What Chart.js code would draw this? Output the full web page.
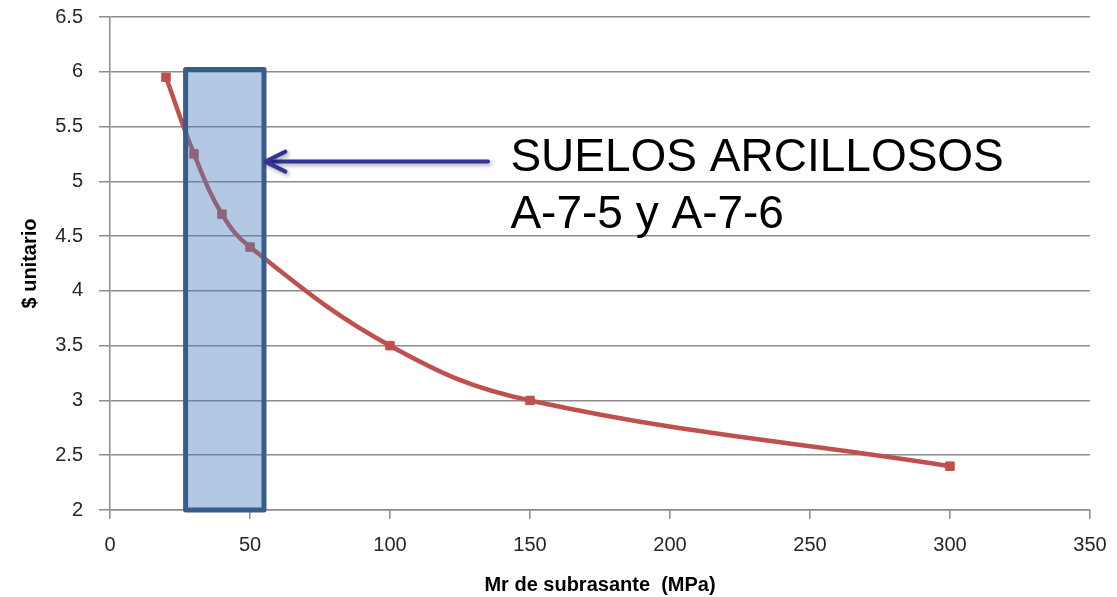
<!DOCTYPE html>
<html>
<head>
<meta charset="utf-8">
<script src="https://cdn.jsdelivr.net/npm/chart.js@4"></script>
<style>
  html, body { margin: 0; padding: 0; background: #ffffff; }
  #wrap { width: 1117px; height: 597px; }
</style>
</head>
<body>
<div id="wrap"><canvas id="c" width="1117" height="597"></canvas></div>
<script>
// ---- data ----
const mrValues = [20, 30, 40, 50, 100, 150, 300];          // Mr de subrasante (MPa)
const costValues = [5.95, 5.25, 4.7, 4.4, 3.5, 3.0, 2.4];  // $ unitario
const xTickLabels = ['0', '50', '100', '150', '200', '250', '300', '350'];
const yTickLabels = ['2', '2.5', '3', '3.5', '4', '4.5', '5', '5.5', '6', '6.5'];
const xAxisTitle = 'Mr de subrasante  (MPa)';
const yAxisTitle = '$ unitario';
// annotation (data units)
const boxXRange = [27, 55];
const boxYRange = [2, 6.02];
const arrowFrom = [135, 5.18];
const arrowTo = [55.5, 5.18];
const labelAnchor = [143, 5.09];
const labelLines = ['SUELOS ARCILLOSOS', 'A-7-5 y A-7-6'];

const points = mrValues.map((x, i) => ({ x: x, y: costValues[i] }));
const gridColor = '#8c8c8c';
const tickFont = { family: '"Liberation Sans", Arial, sans-serif', size: 20 };
const titleFont = { family: '"Liberation Sans", Arial, sans-serif', size: 20, weight: 'bold' };

const annotationPlugin = {
  id: 'annot',
  afterDatasetsDraw(chart) {
    const ctx = chart.ctx;
    const xs = chart.scales.x, ys = chart.scales.y;
    // shaded box
    const x0 = xs.getPixelForValue(boxXRange[0]);
    const x1 = xs.getPixelForValue(boxXRange[1]);
    const y0 = ys.getPixelForValue(boxYRange[1]);
    const y1 = ys.getPixelForValue(boxYRange[0]);
    ctx.save();
    ctx.fillStyle = 'rgba(79,129,189,0.43)';
    ctx.fillRect(x0, y0, x1 - x0, y1 - y0);
    ctx.lineWidth = 5;
    ctx.lineJoin = 'round';
    ctx.strokeStyle = '#385d8a';
    ctx.strokeRect(x0, y0, x1 - x0, y1 - y0);
    ctx.restore();

    // arrow
    const ax0 = xs.getPixelForValue(arrowFrom[0]);
    const ay0 = ys.getPixelForValue(arrowFrom[1]);
    const ax1 = xs.getPixelForValue(arrowTo[0]);
    const ay1 = ys.getPixelForValue(arrowTo[1]);
    ctx.save();
    ctx.shadowColor = 'rgba(0,0,0,0.35)';
    ctx.shadowBlur = 4;
    ctx.shadowOffsetX = 2;
    ctx.shadowOffsetY = 2;
    ctx.strokeStyle = '#333399';
    ctx.lineWidth = 4;
    ctx.lineCap = 'round';
    ctx.lineJoin = 'round';
    ctx.beginPath();
    ctx.moveTo(ax0, ay0);
    ctx.lineTo(ax1 + 2, ay1);
    ctx.stroke();
    ctx.beginPath();
    ctx.moveTo(ax1 + 20, ay1 - 10);
    ctx.lineTo(ax1, ay1);
    ctx.lineTo(ax1 + 20, ay1 + 10);
    ctx.stroke();
    ctx.restore();

    // label text
    const tx = xs.getPixelForValue(labelAnchor[0]);
    const ty = ys.getPixelForValue(labelAnchor[1]);
    ctx.save();
    ctx.fillStyle = '#000000';
    ctx.font = '46px "Liberation Sans", Arial, sans-serif';
    ctx.textAlign = 'left';
    ctx.textBaseline = 'alphabetic';
    labelLines.forEach((t, i) => ctx.fillText(t, tx, ty + i * 57));
    ctx.restore();
  }
};

new Chart(document.getElementById('c'), {
  type: 'line',
  data: {
    datasets: [{
      data: points,
      borderColor: '#c0504d',
      backgroundColor: '#c0504d',
      pointBackgroundColor: '#c0504d',
      pointBorderColor: '#c0504d',
      borderWidth: 4.5,
      pointStyle: 'rect',
      pointRadius: 6,
      pointHoverRadius: 6,
      pointBorderWidth: 1,
      tension: 0.4,
      fill: false
    }]
  },
  options: {
    responsive: false,
    animation: false,
    devicePixelRatio: 1,
    layout: { padding: { top: 17, right: 27, left: 0, bottom: 0 } },
    plugins: { legend: { display: false }, tooltip: { enabled: false } },
    scales: {
      x: {
        type: 'linear',
        min: 0, max: 350,
        afterFit(s) { s.height = 87; s.paddingLeft = 0; s.paddingRight = 0; },
        afterBuildTicks(s) { s.ticks = xTickLabels.map(v => ({ value: Number(v) })); },
        ticks: {
          font: tickFont, color: '#262626', padding: 14,
          maxRotation: 0, autoSkip: false,
          callback: (v) => { const i = xTickLabels.indexOf(String(v)); return i >= 0 ? xTickLabels[i] : ''; }
        },
        grid: { drawOnChartArea: false, drawTicks: true, tickLength: 9, color: gridColor, lineWidth: 1.5 },
        border: { display: true, color: gridColor, width: 1.5 },
        title: { display: true, text: xAxisTitle, font: titleFont, color: '#000000', padding: { top: 0, bottom: 0 } }
      },
      y: {
        min: 2, max: 6.5,
        afterFit(s) { s.width = 110; s.paddingTop = 0; s.paddingBottom = 0; },
        afterBuildTicks(s) { s.ticks = yTickLabels.map(v => ({ value: Number(v) })); },
        ticks: {
          font: tickFont, color: '#262626', padding: 16, autoSkip: false,
          callback: (v) => { const i = yTickLabels.map(Number).indexOf(v); return i >= 0 ? yTickLabels[i] : ''; }
        },
        grid: { drawTicks: true, tickLength: 11, color: gridColor, lineWidth: 1.5 },
        border: { display: true, color: gridColor, width: 1.5 },
        title: { display: true, text: yAxisTitle, font: titleFont, color: '#000000', padding: { top: 18, bottom: 0 } }
      }
    }
  },
  plugins: [annotationPlugin]
});
</script>
</body>
</html>
